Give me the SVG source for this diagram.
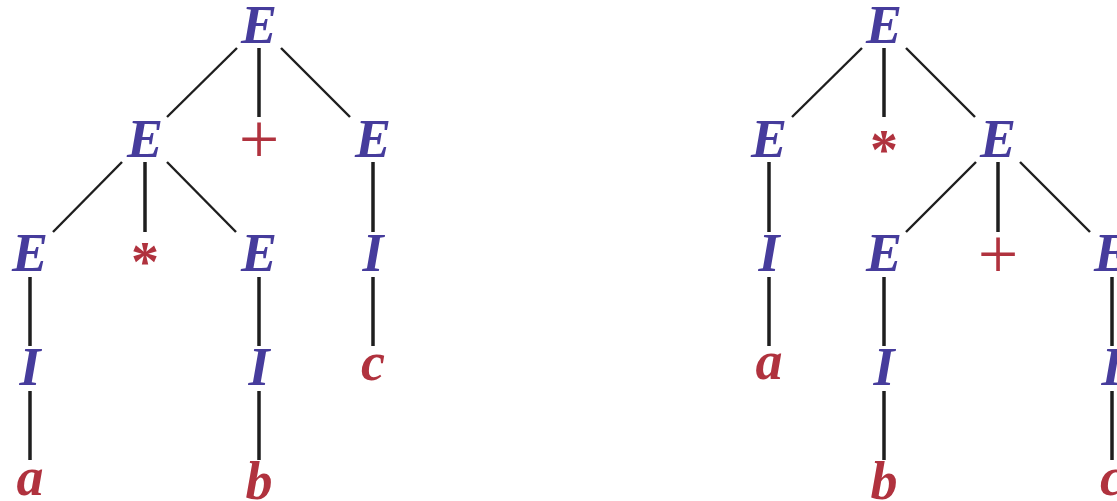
<svg xmlns="http://www.w3.org/2000/svg" width="1117" height="501" viewBox="0 0 1117 501">
<style>
.nt{font-family:"Liberation Serif",serif;font-weight:bold;font-style:italic;font-size:54px;fill:#463c9c;text-anchor:middle}
.t{font-family:"Liberation Serif",serif;font-weight:bold;font-style:italic;font-size:54px;fill:#b0323e;text-anchor:middle}
.op{font-family:"Liberation Serif",serif;font-size:72px;fill:#b0323e;text-anchor:middle}
.ast{font-family:"Liberation Serif",serif;font-weight:bold;font-size:56px;fill:#b0323e;text-anchor:middle}
.e line{stroke:#1e1e1e;stroke-linecap:butt}
.v{stroke-width:3.5}
.d{stroke-width:2.4}
</style>
<rect width="1117" height="501" fill="#ffffff"/>
<g id="connectors" class="e">
<!-- left tree -->
<line class="d" x1="237" y1="48" x2="167" y2="117"/>
<line class="v" x1="259" y1="48" x2="259" y2="117"/>
<line class="d" x1="281" y1="48" x2="350" y2="117"/>
<line class="d" x1="122" y1="162" x2="53" y2="232"/>
<line class="v" x1="145" y1="162" x2="145" y2="232"/>
<line class="d" x1="167" y1="162" x2="236" y2="232"/>
<line class="v" x1="373" y1="162" x2="373" y2="232"/>
<line class="v" x1="30" y1="277" x2="30" y2="346"/>
<line class="v" x1="259" y1="277" x2="259" y2="346"/>
<line class="v" x1="373" y1="277" x2="373" y2="346"/>
<line class="v" x1="30" y1="391" x2="30" y2="460"/>
<line class="v" x1="259" y1="391" x2="259" y2="460"/>
<!-- right tree -->
<line class="d" x1="862" y1="48" x2="792" y2="117"/>
<line class="v" x1="884" y1="48" x2="884" y2="117"/>
<line class="d" x1="906" y1="48" x2="975" y2="117"/>
<line class="v" x1="769" y1="162" x2="769" y2="232"/>
<line class="d" x1="976" y1="162" x2="906" y2="232"/>
<line class="v" x1="998" y1="162" x2="998" y2="232"/>
<line class="d" x1="1020" y1="162" x2="1090" y2="232"/>
<line class="v" x1="769" y1="277" x2="769" y2="346"/>
<line class="v" x1="884" y1="277" x2="884" y2="346"/>
<line class="v" x1="1112" y1="277" x2="1112" y2="346"/>
<line class="v" x1="884" y1="391" x2="884" y2="460"/>
<line class="v" x1="1112" y1="391" x2="1112" y2="460"/>
</g>
<!-- left tree nodes -->
<g id="L-E0"><text class="nt" x="259" y="43">E</text></g>
<g id="L-E1"><text class="nt" x="145" y="157">E</text></g>
<g id="L-plus"><text class="op" x="259" y="163">+</text></g>
<g id="L-E2"><text class="nt" x="373" y="157">E</text></g>
<g id="L-E3"><text class="nt" x="30" y="271">E</text></g>
<g id="L-star"><text class="ast" x="145" y="281">*</text></g>
<g id="L-E4"><text class="nt" x="259" y="271">E</text></g>
<g id="L-I0"><text class="nt" x="373" y="271">I</text></g>
<g id="L-I1"><text class="nt" x="30" y="385">I</text></g>
<g id="L-I2"><text class="nt" x="259" y="385">I</text></g>
<g id="L-c"><text class="t" x="373" y="380">c</text></g>
<g id="L-a"><text class="t" x="30" y="495">a</text></g>
<g id="L-b"><text class="t" x="259" y="499">b</text></g>
<!-- right tree nodes -->
<g id="R-E0"><text class="nt" x="884" y="43">E</text></g>
<g id="R-E1"><text class="nt" x="769" y="157">E</text></g>
<g id="R-star"><text class="ast" x="884" y="169">*</text></g>
<g id="R-E2"><text class="nt" x="998" y="157">E</text></g>
<g id="R-I0"><text class="nt" x="769" y="271">I</text></g>
<g id="R-E3"><text class="nt" x="884" y="271">E</text></g>
<g id="R-plus"><text class="op" x="998" y="278">+</text></g>
<g id="R-E4"><text class="nt" x="1112" y="271">E</text></g>
<g id="R-a"><text class="t" x="769" y="379">a</text></g>
<g id="R-I1"><text class="nt" x="884" y="385">I</text></g>
<g id="R-I2"><text class="nt" x="1112" y="385">I</text></g>
<g id="R-b"><text class="t" x="884" y="499">b</text></g>
<g id="R-c"><text class="t" x="1112" y="495">c</text></g>
</svg>
